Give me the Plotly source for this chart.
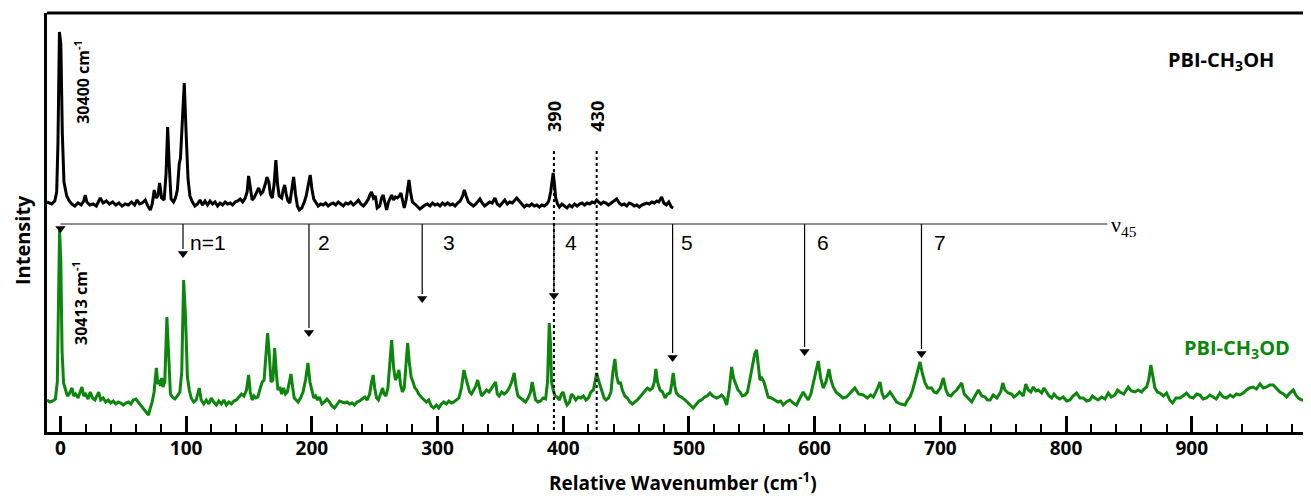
import plotly.graph_objects as go

# ---------------- data ----------------
# PBI-CH3OH spectrum (black): wavenumber (cm-1) and intensity above its baseline (arb.)
oh_wn = [-10.7, -7, -4.5, -3, -2, -0.8, 0.3, 1.5, 2.8, 3.8, 5, 7, 9, 11.5, 14, 16.5, 18.5, 19.7, 21, 23.5,
         26, 28.5, 31.7, 34, 36.5, 39, 41.5, 44, 46.5, 49, 51.5, 54, 56.5, 59, 61, 63, 65, 67.5, 69.5, 71.5,
         73, 74.6, 76, 77.5, 78.9, 80.5, 82.5, 84, 85.3, 86.5, 88, 90, 91.5, 93, 94.5, 95.5, 97, 98.5, 100, 101.5,
         103, 105, 107, 109, 111, 113, 115, 117, 119, 121, 123, 125, 127, 129, 131, 133, 135, 137, 139, 141,
         143, 145, 147, 148.5, 149.7, 151, 152.5, 154, 155.5, 157.7, 159.5, 161, 163, 164.3, 165.8, 167, 168.5, 170, 171.4, 172.7,
         174, 176, 177.2, 178.4, 179.6, 181, 182.5, 184, 185.5, 187, 188.5, 190, 192, 194, 195.5, 197, 198.7, 200.2, 201.5, 203,
         205, 207, 209, 211, 213, 215, 217, 219, 221, 223, 225, 227, 229, 231, 233, 235, 237, 239, 241, 243,
         245, 246.5, 247.5, 249, 250.5, 252, 254, 255.5, 256.8, 258, 259.5, 261, 262.5, 263.5, 265, 266.5, 268, 269.5, 270.9, 272.3,
         273.5, 275, 276.2, 277.3, 278.5, 280, 282, 284, 286, 288, 290, 292, 294, 296, 298, 300, 302, 304, 306, 308,
         310, 312, 314, 316, 318, 320, 321.3, 322.8, 324.5, 326.5, 328.5, 330.5, 332, 333.7, 335.5, 337.5, 339.5, 341.5, 343.5, 345.7,
         347.5, 349.5, 351.5, 353.5, 355.5, 357.5, 359.5, 361.5, 363, 365, 367, 369, 371, 373, 375, 377, 379, 381, 383, 385,
         387, 388.5, 390, 391.2, 392, 393, 394, 395.5, 397, 399, 401, 403, 405, 407, 409, 411, 413, 415, 417, 419,
         421, 423, 425, 426.6, 428, 430, 432, 434, 436, 438, 440, 442.5, 444.5, 446.5, 448.5, 450.5, 452.5, 454.5, 456.5, 458.5,
         460.5, 462.5, 464.5, 466.5, 468.5, 470.5, 472.5, 474.5, 476, 478.3, 480, 482, 484, 486, 487.5]
oh_int = [2, 0, 3, 12, 60, 172, 160, 70, 22, 17, 8, 3, 0, -2, 1, -1, 3, 9, 2, -1,
          0, -2, 6, 1, 3, 0, 2, -1, 1, -2, 0, -1, 2, -1, 4, 0, 1, 4, -2, -6,
          0, 14, 6, 8, 21, 6, 4, 30, 77, 40, 5, 2, 6, 14, 40, 46, 80, 121, 70, 25,
          8, 2, -2, 0, 4, -1, 3, -1, 3, 0, 2, -2, 1, -1, 2, 0, 1, -1, 2, 3,
          5, 2, 6, 12, 28, 14, 4, 6, 10, 16, 10, 12, 20, 27, 22, 10, 6, 20, 44, 20,
          8, 6, 14, 19, 10, 3, 1, 14, 27, 10, -2, -6, -4, 2, 8, 18, 29, 14, 5, 2,
          -2, 0, -1, 1, -2, 0, 1, -1, 2, 0, -2, 1, 0, 2, -1, 1, 4, 0, -2, 1,
          5, 10, 12, 6, 8, -4, -2, 6, 9, 2, -6, 2, 6, 9, 4, 7, 6, 8, 11, 2,
          -4, 4, 15, 24, 12, 2, 0, -3, -5, -3, -1, 0, -2, 1, -1, 0, -2, 1, -1, 1,
          -1, 0, -2, 1, 3, 8, 14, 8, 2, 0, -2, 0, 2, 5, 1, -2, 0, 2, 1, 6,
          0, -2, 1, 4, 0, 2, 1, 4, 6, 3, 0, -3, -1, -2, 0, -2, -1, -3, -1, -2,
          0, 3, 12, 25, 31, 20, 6, 0, -3, 0, -2, -4, -1, -3, 0, -2, 0, 1, -1, 1,
          0, 2, 1, 4, 2, 0, 2, 1, -1, 1, 3, 5, 1, -1, 0, -2, 1, 0, -2, -1,
          -3, -1, 0, 1, 0, 2, 1, 3, 2, 7, 1, -1, 2, -3, -4]

# PBI-CH3OD spectrum (green): wavenumber (cm-1) and intensity above its baseline (arb.)
od_wn = [-10.7, -8.5, -6, -4, -2.5, -1.5, -0.7, 0.3, 1.3, 2.5, 4, 5.5, 7, 9.2, 10.5, 12, 14, 15.5, 17.1, 18.5,
         20, 22, 23.7, 25.5, 27.5, 29, 30.4, 32, 34, 36, 38, 40, 42, 44, 46, 48, 50, 52, 54, 56,
         58, 60, 62, 64, 66, 68, 70, 71.5, 73, 74.5, 76.3, 77.5, 78.5, 79.5, 80.5, 81.5, 83, 84.7, 86, 87.5,
         89, 91, 93, 95, 96.5, 98, 99.5, 101, 102.5, 104, 106, 108, 110.4, 112, 114, 116, 118, 120, 122, 124,
         126, 128, 130, 132, 134, 136, 138, 140, 142, 144, 146, 148, 149.7, 151, 152.5, 154, 155.5, 157, 159, 160.5,
         162, 163.5, 164.8, 166, 167.5, 169, 170.4, 171.7, 173, 174.5, 176, 177.5, 179, 180.5, 182, 183.4, 184.8, 186, 187.5, 189,
         191, 193, 195, 196.9, 198.5, 200, 201.5, 203, 204.5, 206, 208, 210, 212, 214, 216, 218, 220, 222, 224, 226,
         228, 230, 232, 234, 236, 238, 240, 242.2, 244, 246, 247.5, 248.8, 250, 251.5, 253, 254.5, 256.3, 257.5, 259, 260.5,
         262, 263.5, 265, 266.5, 268, 269.3, 270.5, 272, 273.5, 275, 276.2, 277.5, 279, 280.5, 282, 283.5, 285, 287, 289, 291,
         293, 295, 297, 299, 301, 303, 305, 307, 309, 311, 313, 315, 317, 319, 321, 322.5, 324, 325.5, 327, 329,
         330.5, 331.9, 333.5, 335, 337, 339, 341, 343, 344.5, 346.2, 347.5, 349, 351, 353, 355, 357, 359, 361, 362.5, 364,
         366, 368, 370, 372, 374, 375.3, 376.5, 378, 380, 382, 384, 386, 387.5, 388.9, 389.8, 390.7, 392, 393.5, 395, 397,
         398.5, 400, 401.5, 403, 405, 406.5, 408, 410, 412, 414, 416, 418, 420, 422, 424, 425.5, 426.6, 428, 429.5, 431,
         432.5, 434, 436, 438, 439.5, 441.1, 442.5, 444, 445.5, 447, 449, 451, 453, 455, 457, 459, 461, 463, 465, 467,
         469, 471, 472.5, 473.7, 475, 477, 479, 481, 483, 485, 486.3, 487.5, 488.8, 490, 492, 494, 497, 499.4, 501.5, 503.4,
         506, 508, 510, 512.5, 514.5, 516.7, 519, 522, 524, 526, 528, 530, 532, 534, 535.5, 537.4, 539, 540.6, 542.5, 544.6,
         546.5, 548, 549.5, 550.7, 552.3, 553.8, 555, 556.5, 558, 559.7, 561.5, 563, 565.5, 568.4, 571, 573, 575, 577.5, 580.3, 583,
         585.6, 588, 590.9, 592.8, 594.9, 597, 599.4, 601.2, 602.9, 604.8, 606.8, 609, 611.4, 613, 614.8, 617, 620.1, 622.5, 625.4, 628,
         630, 632, 635, 638.7, 642, 644.5, 646.7, 649.5, 652, 653.6, 655.2, 657.5, 660, 662.5, 665.3, 668.5, 671.9, 674, 675.9, 678,
         679.9, 682, 683.8, 685.8, 687.8, 690, 693.1, 695, 697.1, 700, 702.4, 704.5, 706.3, 708.5, 710.3, 713, 717, 719, 721, 723,
         725, 727.5, 730.3, 733, 735.6, 737.5, 739.6, 742.1, 745, 748, 749.7, 751.4, 754, 756.7, 758.5, 760.7, 763, 766, 768, 770,
         772, 774, 776, 777.9, 780.6, 782.5, 784.6, 786.5, 788.6, 790.5, 792.5, 795, 797.8, 800.5, 803.1, 805.5, 808.4, 811, 813.7, 816.5,
         819, 821, 823, 825.5, 828.3, 831, 833.6, 836, 838.9, 841, 842.9, 846, 849.5, 852, 854.8, 857.5, 860.1, 862, 864.1, 865.8,
         867.5, 869, 870.7, 872.7, 874.7, 877.5, 880, 882.5, 884.8, 887.5, 890.6, 893, 895.9, 898.5, 901.2, 904, 906.5, 909, 911.8, 914.5,
         917.1, 919.5, 922.4, 925, 927.7, 930.5, 933, 935.5, 938.3, 941, 943.6, 946, 948.9, 951.5, 954.3, 957, 959.6, 962, 964.9, 967.5,
         970.2, 973, 975.5, 978, 980.8, 982.8, 984.8, 987.5, 990.1, 992, 994.1]
od_int = [2, 0, 1, 3, 20, 110, 172, 140, 50, 19, 12, 6, 8, 14, 6, 8, 4, 9, 15, 6,
          8, 3, 10, 4, 2, 6, 10, 2, 4, 0, 2, -1, 1, -2, 0, -1, -3, -1, 0, -2,
          2, 3, 0, -3, -6, -9, -13, -6, 0, 10, 34, 18, 22, 16, 24, 15, 20, 85, 40, 8,
          5, 3, 6, 10, 30, 122, 85, 25, 12, 4, 0, 2, 14, 2, -2, 2, -2, 4, 0, -3,
          1, -2, 2, -3, 0, -2, 1, 2, 5, 8, 6, 12, 27, 10, 2, 6, 4, 5, 14, 20,
          22, 45, 69, 50, 20, 22, 54, 30, 12, 15, 8, 14, 8, 10, 18, 28, 14, 4, 2, 0,
          4, 10, 22, 39, 20, 10, 4, 6, 2, 5, -2, 0, 3, 0, -4, -6, -2, 1, 0, -1,
          0, -2, -1, -3, 0, 1, 3, 5, 2, 8, 20, 27, 14, 4, 2, 8, 14, 8, 6, 14,
          40, 62, 35, 22, 26, 32, 18, 10, 14, 40, 59, 40, 25, 20, 14, 12, 8, 5, 2, 0,
          2, -4, -6, -3, -6, -2, 0, -2, 1, -1, 0, 2, 4, 14, 32, 24, 18, 10, 8, 12,
          16, 22, 12, 6, 9, 12, 10, 14, 16, 20, 8, 6, 10, 8, 10, 14, 20, 29, 15, 6,
          4, 2, 0, 4, 10, 20, 12, 2, 0, 1, 4, 3, 20, 79, 60, 20, 12, 6, 5, 2,
          8, 10, 2, -3, 0, 8, 6, 2, 5, 4, 6, 2, 4, 10, 12, 20, 29, 22, 16, 8,
          4, 2, 4, 10, 30, 43, 26, 18, 20, 12, 6, 4, 0, -2, 0, 2, 5, 8, 10, 14,
          12, 14, 20, 33, 20, 12, 10, 4, 8, 9, 18, 29, 16, 9, 6, 5, 2, -1, -3, -6,
          -2, 1, 2, 5, 6, 9, 6, 4, 5, 7, 4, -3, 12, 35, 24, 17, 12, 10, 6, 7,
          10, 19, 30, 39, 48, 52, 35, 22, 24, 20, 12, 5, 4, 2, 0, 1, -3, 0, 2, -1,
          -3, 3, 10, 6, 2, 8, 22, 32, 41, 24, 14, 20, 33, 22, 15, 10, 7, 4, 5, 9,
          12, 14, 8, 7, 4, 7, 5, 12, 20, 9, 4, 6, 10, 5, 0, -2, -3, 2, 5, 12,
          22, 30, 40, 28, 19, 14, 14, 10, 9, 14, 24, 12, 7, 6, 9, 12, 19, 8, 5, 2,
          0, 6, 12, 6, 5, 2, 2, 7, 4, 10, 19, 12, 9, 8, 5, 7, 10, 6, 18, 12,
          10, 15, 11, 12, 9, 14, 10, 6, 4, 8, 5, 3, 5, 1, 2, 6, 9, 4, 4, 1,
          2, 6, 4, 2, 5, 3, 9, 5, 7, 12, 10, 8, 15, 11, 10, 12, 10, 13, 15, 22,
          37, 24, 14, 10, 9, 6, 9, 2, -1, 4, 4, 6, 9, 5, 4, 8, 7, 3, 4, 7,
          5, 3, 9, 5, 4, 7, 5, 8, 7, 9, 12, 14, 15, 13, 18, 14, 15, 17, 17, 13,
          10, 8, 5, 9, 12, 7, 4, 2, 2, 6, 5]

# nu45 progression (cm-1) and arrow tip heights (plot scale)
prog_n = ["", "n=1", "2", "3", "4", "5", "6", "7"]
prog_wn = [0, 97.5, 197.7, 287.8, 392.6, 487, 592, 685]
prog_tip = [199, 174, 95, 129, 132, 70, 76, 74]
prog_label_wn = [0, 101.4, 203, 303, 400, 492, 600, 693]

marker_lines = [392.6, 426.6]
marker_text = ["390", "430"]

tick_vals = [0, 100, 200, 300, 400, 500, 600, 700, 800, 900]

# ---------------- figure ----------------
OH_OFFSET = 228
OD_OFFSET = 30
GREEN = "#0c860c"
PROG_Y = 208
HEAD = 9  # arrowhead length in plot units (1 unit = 1 px)

fig = go.Figure()
fig.add_trace(go.Scatter(x=oh_wn, y=[v + OH_OFFSET for v in oh_int], mode="lines",
                         line=dict(color="black", width=3), hoverinfo="skip"))
fig.add_trace(go.Scatter(x=od_wn, y=[v + OD_OFFSET for v in od_int], mode="lines",
                         line=dict(color=GREEN, width=3), hoverinfo="skip"))

fig.add_shape(type="line", x0=0, x1=833, y0=PROG_Y, y1=PROG_Y, xref="x", yref="y",
              line=dict(color="#222", width=1))

for wn, tip in zip(prog_wn, prog_tip):
    fig.add_shape(type="line", x0=wn, x1=wn, y0=PROG_Y, y1=tip + HEAD, xref="x", yref="y",
                  line=dict(color="black", width=1.2))
fig.add_trace(go.Scatter(x=prog_wn, y=[t + HEAD / 2 for t in prog_tip], mode="markers",
                         marker=dict(symbol="triangle-down", size=9, color="black", line=dict(width=0)),
                         hoverinfo="skip"))

for i, lab in enumerate(prog_n):
    if lab:
        fig.add_annotation(x=prog_label_wn[i], y=190, xref="x", yref="y", text=lab, showarrow=False,
                           xanchor="left", yanchor="middle",
                           font=dict(family="Liberation Sans, Arial", size=21, color="black"))

fig.add_annotation(x=834, y=PROG_Y, xref="x", yref="y", text="ν<sub>45</sub>", showarrow=False,
                   xanchor="left", yanchor="middle", yshift=-2,
                   font=dict(family="Liberation Serif, Times New Roman", size=22, color="black"))

for wn, t in zip(marker_lines, marker_text):
    fig.add_shape(type="line", x0=wn, x1=wn, y0=2, y1=282, xref="x", yref="y",
                  line=dict(color="black", width=2, dash="dot"))
    fig.add_annotation(x=wn, y=316, xref="x", yref="y", text=t, showarrow=False, textangle=-90,
                       font=dict(family="Open Sans, Arial", size=18, color="black", weight="bold"))

fig.add_annotation(x=17, y=350, xref="x", yref="y", text="30400 cm<sup>-1</sup>", showarrow=False,
                   textangle=-90, font=dict(family="Open Sans, Arial", size=16, color="black", weight="bold"))
fig.add_annotation(x=15.5, y=129, xref="x", yref="y", text="30413 cm<sup>-1</sup>", showarrow=False,
                   textangle=-90, font=dict(family="Open Sans, Arial", size=16, color="black", weight="bold"))

fig.add_annotation(x=923, y=372, xref="x", yref="y", text="PBI-CH<sub>3</sub>OH", showarrow=False,
                   font=dict(family="Open Sans, Arial", size=20, color="black", weight="bold"))
fig.add_annotation(x=936, y=84, xref="x", yref="y", text="PBI-CH<sub>3</sub>OD", showarrow=False,
                   font=dict(family="Open Sans, Arial", size=20, color=GREEN, weight="bold"))

fig.add_annotation(x=-0.0198, y=0.458, xref="paper", yref="paper", text="Intensity", showarrow=False,
                   textangle=-90, xanchor="center", yanchor="middle",
                   font=dict(family="Open Sans, Arial", size=20, color="black", weight="bold"))
fig.add_annotation(x=0.503, y=-0.119, xref="paper", yref="paper", text="Relative Wavenumber (cm<sup>-1</sup>)",
                   showarrow=False, xanchor="center", yanchor="middle",
                   font=dict(family="Open Sans, Arial", size=19, color="black", weight="bold"))

# top frame line
fig.add_shape(type="line", x0=0, x1=1, y0=1, y1=1, xref="paper", yref="paper",
              line=dict(color="black", width=3))

# page body has an 8px margin: figure is shrunk by 8px so plot area lands where the reference has it
fig.update_layout(
    width=1303, height=490,
    margin=dict(l=39, r=0, t=5, b=66),
    paper_bgcolor="white", plot_bgcolor="white",
    showlegend=False,
    xaxis=dict(range=[-10.7, 994.9], showgrid=False, zeroline=False,
               showline=True, linecolor="black", linewidth=3, mirror=False,
               ticks="inside", ticklen=16, tickwidth=2.5, tickcolor="black",
               tickvals=tick_vals,
               minor=dict(ticks="inside", ticklen=8, tickwidth=2, tickcolor="black", dtick=20, tick0=0),
               tickfont=dict(family="Open Sans, Arial", size=19, color="black", weight="bold"),
               ticklabelstandoff=-3),
    yaxis=dict(range=[0, 419], showgrid=False, zeroline=False, showticklabels=False,
               showline=True, linecolor="black", linewidth=3, ticks=""),
)

fig.write_html("out.html")
